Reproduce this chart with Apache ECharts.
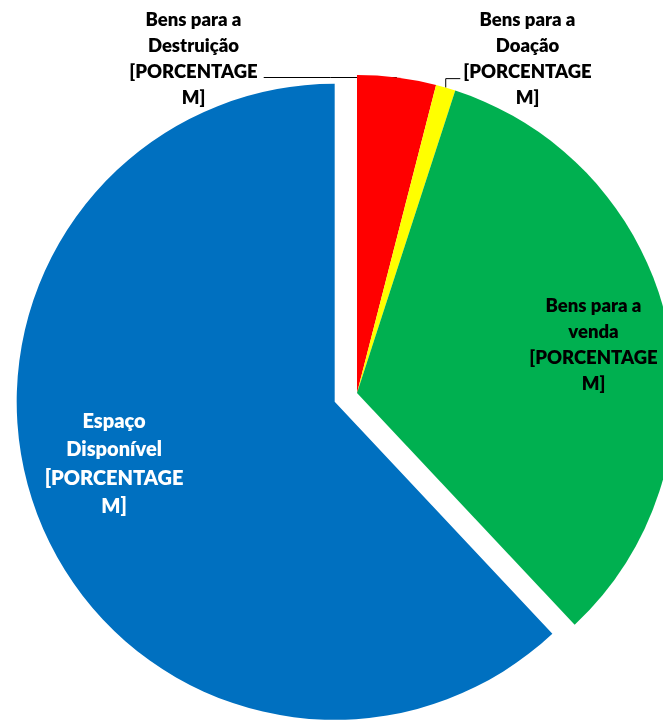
<!DOCTYPE html>
<html>
<head>
<meta charset="utf-8">
<script src="https://cdn.jsdelivr.net/npm/echarts@6/dist/echarts.min.js"></script>
<style>
html,body{margin:0;padding:0;background:#ffffff;}
#chart{width:663px;height:721px;}
</style>
</head>
<body>
<div id="chart"></div>
<script>
// ---- data ----
const categories = ['Bens para a Destruição', 'Bens para a Doação', 'Bens para a venda', 'Espaço Disponível'];
const labelTexts = [
  'Bens para a\nDestruição\n[PORCENTAGE\nM]',
  'Bens para a\nDoação\n[PORCENTAGE\nM]',
  'Bens para a\nvenda\n[PORCENTAGE\nM]',
  'Espaço\nDisponível\n[PORCENTAGE\nM]'
];
const values = [4, 1, 33, 62];
const explodedIndex = 3;

// ---- style / layout ----
const sliceColors = ['#FF0000', '#FFFF00', '#00B050', '#0070C0'];
const labelColors = ['#000000', '#000000', '#000000', '#FFFFFF'];
const labelCenters = [[193.5, 59], [527.5, 59], [593.5, 345], null];
const explodedLabelShift = [-70, 2.5];
const FONT = 'Lato, "Open Sans", sans-serif';

const chart = echarts.init(document.getElementById('chart'), null, {renderer: 'canvas'});

const seriesData = categories.map((name, i) => ({
  name: name,
  value: values[i],
  selected: i === explodedIndex,
  itemStyle: {color: sliceColors[i]},
  label: {
    show: true,
    position: i < 2 ? 'outside' : 'inside',
    formatter: labelTexts[i],
    color: labelColors[i],
    fontFamily: FONT,
    fontWeight: 800,
    fontSize: i === 3 ? 20 : 18.5,
    lineHeight: i === 3 ? 28.5 : 26,
    align: 'center'
  },
  labelLine: {show: i < 2, lineStyle: {color: '#000000', width: 1}}
}));

chart.setOption({
  animation: false,
  backgroundColor: '#ffffff',
  series: [{
    type: 'pie',
    center: [357, 393],
    radius: [0, 318],
    startAngle: 90,
    clockwise: true,
    selectedMode: 'single',
    selectedOffset: 24,
    avoidLabelOverlap: false,
    emphasis: {disabled: true},
    itemStyle: {borderWidth: 0},
    data: seriesData,
    labelLayout: function (p) {
      const i = p.dataIndex;
      if (i === explodedIndex) {
        return {dx: explodedLabelShift[0], dy: explodedLabelShift[1]};
      }
      const c = labelCenters[i];
      const out = {x: c[0], y: c[1], align: 'center', verticalAlign: 'middle'};
      if (i < 2 && p.labelLinePoints && p.labelLinePoints[0]) {
        const e = p.labelLinePoints[0];
        if (i === 0) {
          const endX = c[0] + p.labelRect.width / 2 + 6;
          out.labelLinePoints = [[e[0], e[1]], [(e[0] + endX) / 2, e[1]], [endX, e[1]]];
        } else {
          const endX = c[0] - p.labelRect.width / 2 - 3;
          const yTop = e[1] - 9;
          out.labelLinePoints = [[e[0], e[1]], [e[0], yTop], [endX, yTop]];
        }
      }
      return out;
    }
  }]
});
</script>
</body>
</html>
